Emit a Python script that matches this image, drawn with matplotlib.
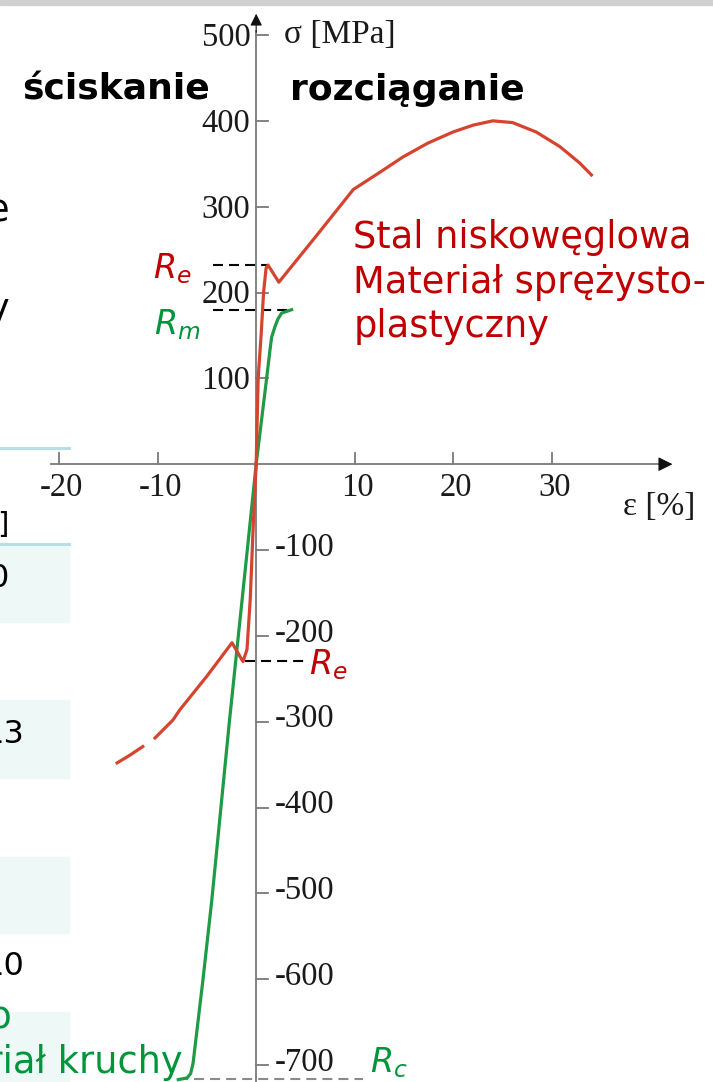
import matplotlib
matplotlib.use("Agg")
from matplotlib import pyplot as plt
from matplotlib.patches import Rectangle

# --- data (strain in %, stress in MPa) ---
# low-carbon steel, tension
steel_t_eps = [0, 0.2, 0.5, 0.75, 1.0, 1.2, 2.3, 6.1, 9.85, 12.4, 14.9, 17.4, 19.96,
               22.0, 24.0, 26.0, 28.4, 30.8, 32.8, 34.0]
steel_t_sig = [0, 100, 150, 200, 228, 232, 212, 266, 320, 339, 358, 374, 387,
               395, 400, 398, 387, 370, 351, 337]
# low-carbon steel, compression (solid part, then the short piece after the gap)
steel_c_eps = [0, -0.3, -0.6, -0.93, -1.34, -2.45, -5.0, -7.73, -8.44, -10.26]
steel_c_sig = [0, -72, -157, -216, -230, -208, -247, -286, -298, -319]
steel_c2_eps = [-11.5, -12.8, -14.1]
steel_c2_sig = [-329, -339, -348]
# cast iron (brittle)
iron_t_eps = [0, 1.06, 1.4, 1.57, 1.9, 2.2, 2.58, 3.6]
iron_t_sig = [0, 100, 133, 148, 160, 169, 176, 180]
iron_c_eps = [0, -1.0, -2.7, -4.5, -5.4, -6.4, -6.65, -7.0, -7.9]
iron_c_sig = [0, -111, -298, -508, -601, -698, -710, -715, -717]

# characteristic stresses
Re_t = 232
Rm_t = 180
Re_c = -229
Rc_c = -716

x_ticks = [-20, -10, 10, 20, 30]
y_ticks = [500, 400, 300, 200, 100, -100, -200, -300, -400, -500, -600, -700]

RED_LINE = "#d4442f"
GREEN_LINE = "#1f9a45"
RED_TXT = "#c00000"
GREEN_TXT = "#00953a"
AXIS = "#7a7a7a"

W, H = 713, 1082
fig = plt.figure(figsize=(W / 100, H / 100), dpi=100)
ax = fig.add_axes([0, 0, 1, 1])
ax.set_xlim(-25.98, 46.33)
ax.set_ylim(-719.8, 540.8)
ax.axis("off")


def fx(px):
    return px / W


def fy(py):
    return 1 - py / H


# --- remains of the slide on the left edge ---
fig.patches.append(Rectangle((0, fy(5)), 1, 5 / H, transform=fig.transFigure,
                             color="#d0d0d0", zorder=0))
for top, bot in [(545, 622), (700, 778), (857, 933), (1012, 1082)]:
    fig.patches.append(Rectangle((0, fy(bot)), fx(69), (bot - top) / H,
                                 transform=fig.transFigure, color="#eef8f7", zorder=0))
for yl in [448, 544]:
    fig.lines.append(plt.Line2D([0, fx(69)], [fy(yl), fy(yl)], transform=fig.transFigure,
                                color="#b7dee3", lw=2.2, zorder=1))

side = dict(transform=fig.transFigure, family="DejaVu Sans", ha="right", va="baseline")
fig.text(fx(10), fy(222), "e", fontsize=26.5, color="black", **side)
fig.text(fx(10), fy(320), "y", fontsize=26.5, color="black", **side)
fig.text(fx(9), fy(533), "]", fontsize=21, color="black", **side)
fig.text(fx(9), fy(587), "0", fontsize=23, color="black", **side)
fig.text(fx(24), fy(743), "13", fontsize=23, color="black", **side)
fig.text(fx(24), fy(975), "10", fontsize=23, color="black", **side)
fig.text(fx(12), fy(1027), "Żeliwo", fontsize=26.5, color=GREEN_TXT, **side)
fig.text(fx(183), fy(1073), "Materiał kruchy", fontsize=26.5, color=GREEN_TXT, **side)

# --- axes drawn through the origin ---
ax.plot([-20.8, 41.0], [0, 0], color=AXIS, lw=1.3, zorder=2)
ax.annotate("", xy=(42.5, 0), xytext=(40.6, 0),
            arrowprops=dict(arrowstyle="-|>", color="#111111", lw=0.8, mutation_scale=22))
ax.plot([0, 0], [-720, 505], color=AXIS, lw=1.3, zorder=2)
ax.annotate("", xy=(0, 528), xytext=(0, 500),
            arrowprops=dict(arrowstyle="-|>", color="#111111", lw=0.8, mutation_scale=18))

serif = dict(family="Liberation Serif", fontsize=23.5, color="#1a1a1a")
for t in x_ticks:
    ax.plot([t, t], [0, 13], color=AXIS, lw=1.3)
    ax.text(t + 0.3, -10, str(t), ha="center", va="top", **serif)
for t in y_ticks:
    ax.plot([0, 1.2], [t, t], color=AXIS, lw=1.3)
    if t > 0:
        ax.text(-0.6, t - 3, str(t), ha="right", va="center", **serif)
    else:
        ax.text(1.9, t + 3, str(t), ha="left", va="center", **serif)

ax.text(2.8, 500, "σ [MPa]", ha="left", va="center", family="Liberation Serif",
        fontsize=24, color="#1a1a1a")
ax.text(44.5, -50, "ε [%]", ha="right", va="center", family="Liberation Serif",
        fontsize=24, color="#1a1a1a")

# --- curves ---
ax.plot(steel_t_eps, steel_t_sig, color=RED_LINE, lw=2.3, solid_joinstyle="round", zorder=4)
ax.plot(steel_c_eps, steel_c_sig, color=RED_LINE, lw=2.3, solid_joinstyle="round", zorder=4)
ax.plot(steel_c2_eps, steel_c2_sig, color=RED_LINE, lw=2.3, zorder=4)
ax.plot(iron_t_eps, iron_t_sig, color=GREEN_LINE, lw=2.3, zorder=3)
ax.plot(iron_c_eps, iron_c_sig, color=GREEN_LINE, lw=2.3, zorder=3)

# --- yield / strength levels ---
dash = (0, (4.8, 2.9))
ax.plot([-4.4, 1.2], [Re_t, Re_t], color="black", lw=1.5, ls=dash, zorder=2)
ax.plot([-4.4, 3.6], [Rm_t, Rm_t], color="black", lw=1.5, ls=dash, zorder=2)
ax.plot([-1.1, 4.8], [Re_c, Re_c], color="black", lw=1.5, ls=dash, zorder=2)
ax.plot([-7.9, 10.8], [Rc_c, Rc_c], color="#8a8a8a", lw=1.5, ls=dash, zorder=2)

plt.rcParams["mathtext.fontset"] = "dejavusans"
ax.text(-6.6, Re_t - 16, r"$R_e$", ha="right", va="baseline", fontsize=24, color=RED_TXT)
ax.text(-5.7, Rm_t - 29, r"$R_m$", ha="right", va="baseline", fontsize=24, color=GREEN_TXT)
ax.text(5.4, Re_c - 16, r"$R_e$", ha="left", va="baseline", fontsize=24, color=RED_TXT)
ax.text(11.5, Rc_c + 8, r"$R_c$", ha="left", va="baseline", fontsize=24, color=GREEN_TXT)

# --- captions ---
bold = dict(family="DejaVu Sans", fontweight="bold", fontsize=26, color="black", va="baseline")
ax.text(-23.7, (464.2 - 100) / 0.8583, "ściskanie", ha="left", **bold)
ax.text(3.4, (464.2 - 100) / 0.8583, "rozciąganie", ha="left", **bold)

ax.text(9.85, 286, "Stal niskowęglowa\nMateriał sprężysto-\nplastyczny", ha="left", va="top",
        family="DejaVu Sans", fontsize=26.5, color=RED_TXT, linespacing=1.27)

fig.savefig("out.png", dpi=100)
